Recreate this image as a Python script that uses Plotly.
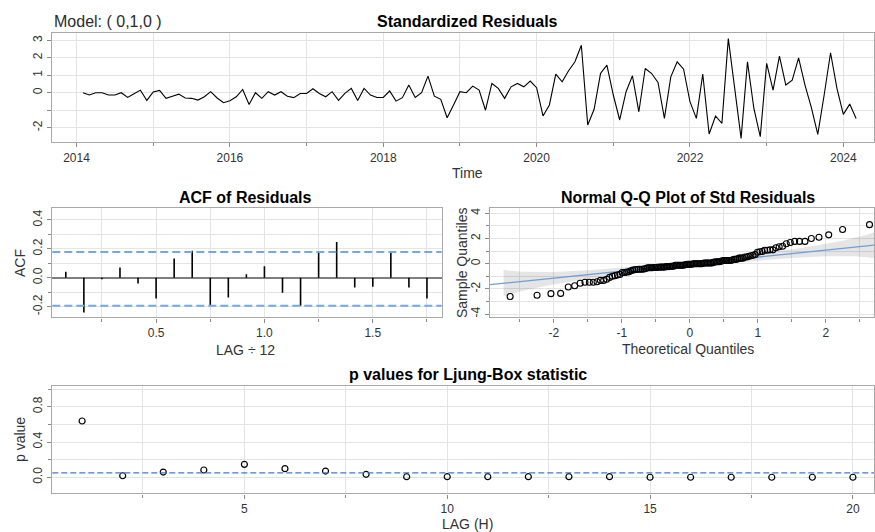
import numpy as np
import plotly.graph_objects as go
from statistics import NormalDist

# ---------------- data ----------------
model_label = "Model: ( 0,1,0 )"
start_year = 2014
start_month = 2
std_resid = [
    0.00, -0.13, 0.00, 0.00, -0.13, -0.13, 0.00, -0.27, -0.06, 0.15,
    -0.44, 0.04, 0.13, -0.32, -0.20, -0.08, -0.30, -0.32, -0.42, -0.23,
    0.06, -0.30, -0.57, -0.46, -0.23, 0.19, -0.67, 0.00, -0.32, 0.06,
    -0.13, 0.06, -0.20, -0.28, -0.04, -0.04, 0.23, -0.04, -0.23, 0.06,
    -0.44, -0.04, 0.25, -0.44, 0.25, -0.13, -0.27, -0.27, 0.10, -0.48,
    -0.28, 0.44, -0.27, 0.00, 0.95, -0.20, -0.38, -1.43, -0.70, 0.06,
    0.00, 0.38, 0.15, -1.00, 0.53, 0.25, -0.32, 0.34, 0.53, 0.34,
    0.67, 0.29, -1.33, -0.70, 1.07, 0.63, 1.26, 1.77, 2.72, -1.85,
    -0.95, 1.10, 1.58, -0.13, -1.56, 0.06, 0.97, -1.09, 1.39, 1.10,
    0.59, -1.47, 0.91, 1.77, 1.35, -0.51, -1.47, 1.07, -2.36, -1.33,
    -1.75, 3.10, 0.25, -2.61, 1.77, -0.90, -2.51, 1.68, 0.15, 2.10,
    0.44, 0.72, 2.00, 0.44, -0.85, -2.38, -0.13, 2.29, 0.25, -1.24,
    -0.65, -1.47,
]
acf_lags = list(range(1, 22))
acf_values = [0.041, -0.240, -0.010, 0.071, -0.040, -0.143, 0.133, 0.186,
              -0.195, -0.136, 0.025, 0.080, -0.103, -0.193, 0.179, 0.248,
              -0.067, -0.062, 0.172, -0.067, -0.143]
acf_bounds = [0.178, -0.193]
lb_lags = list(range(1, 21))
lb_pvalues = [0.638, 0.018, 0.060, 0.083, 0.147, 0.098, 0.071, 0.034, 0.007, 0.007,
              0.007, 0.007, 0.007, 0.007, 0.001, 0.001, 0.001, 0.001, 0.001, 0.001]
lb_level = 0.05

# ---------------- derived ----------------
n = len(std_resid)
t = [start_year + (start_month - 1 + k) / 12 for k in range(n)]
acf_x = [l / 12 for l in acf_lags]

nd = NormalDist()
srt = np.sort(np.array(std_resid))
probs = (np.arange(1, n + 1) - 0.5) / n
zq = np.array([nd.inv_cdf(p) for p in probs])
q1, q3 = np.percentile(srt, [25, 75])
z1, z3 = nd.inv_cdf(0.25), nd.inv_cdf(0.75)
slope = (q3 - q1) / (z3 - z1)
inter = q1 - slope * z1
zb = np.linspace(-2.74, 2.74, 120)
P = np.array([nd.cdf(v) for v in zb])
dn = np.array([nd.pdf(v) for v in zb])
se = slope / dn * np.sqrt(P * (1 - P) / n)
half = 1.96 * 1.8 * se
fitv = inter + slope * zb

W, H = 875, 532
def px(x):
    return x / W
def py(y):
    return 1 - y / H

FONT = "Liberation Sans, Arial, sans-serif"
GRID = "#e4e4e4"
FRAME = "#a9a9a9"
TICKC = "#8a8a8a"
TXT = "#333333"

fig = go.Figure()

fig.add_trace(go.Scatter(x=t, y=std_resid, mode="lines",
                         line=dict(color="black", width=1.1),
                         xaxis="x", yaxis="y", showlegend=False, hoverinfo="skip"))

sx, sy = [], []
for xv, yv in zip(acf_x, acf_values):
    sx += [xv, xv, None]
    sy += [0, yv, None]
fig.add_trace(go.Scatter(x=sx, y=sy, mode="lines", line=dict(color="black", width=1.6),
                         xaxis="x2", yaxis="y2", showlegend=False, hoverinfo="skip"))

fig.add_trace(go.Scatter(x=list(zb) + list(zb[::-1]),
                         y=list(fitv + half) + list((fitv - half)[::-1]),
                         mode="lines", fill="toself", fillcolor="rgba(0,0,0,0.10)",
                         line=dict(width=0), xaxis="x3", yaxis="y3",
                         showlegend=False, hoverinfo="skip"))
fig.add_trace(go.Scatter(x=[-3.2, 3.2], y=[inter - 3.2 * slope, inter + 3.2 * slope],
                         mode="lines", line=dict(color="#6f9fd6", width=1.3),
                         xaxis="x3", yaxis="y3", showlegend=False, hoverinfo="skip"))
fig.add_trace(go.Scatter(x=zq, y=srt, mode="markers",
                         marker=dict(symbol="circle-open", size=6, color="black",
                                     line=dict(width=1.1, color="black")),
                         xaxis="x3", yaxis="y3", showlegend=False, hoverinfo="skip"))

fig.add_trace(go.Scatter(x=lb_lags, y=lb_pvalues, mode="markers",
                         marker=dict(symbol="circle-open", size=6, color="black",
                                     line=dict(width=1.2, color="black")),
                         xaxis="x4", yaxis="y4", showlegend=False, hoverinfo="skip"))

def ax(domain, rng, tickvals, ticktext, minorvals, anchor, angle=0, zeroline=False):
    return dict(domain=domain, range=rng, anchor=anchor,
                tickmode="array", tickvals=tickvals, ticktext=ticktext,
                ticks="outside", ticklen=4, tickcolor=TICKC, tickwidth=1,
                tickangle=angle,
                tickfont=dict(family=FONT, size=12, color=TXT),
                showgrid=True, gridcolor=GRID, gridwidth=1,
                minor=dict(tickmode="array", tickvals=minorvals, ticks="outside",
                           ticklen=3, tickcolor=TICKC, showgrid=True,
                           gridcolor=GRID, gridwidth=1),
                showline=True, mirror=True, linecolor=FRAME, linewidth=1.4,
                zeroline=zeroline, zerolinecolor="#7f7f7f", zerolinewidth=2,
                fixedrange=True)

top_dom_x = [px(52), px(874)]
top_dom_y = [py(142), py(33)]
mid_dom_y = [py(317.3), py(208.3)]
acf_dom_x = [px(52.3), px(441.7)]
qq_dom_x = [px(490), px(874)]
lb_dom_x = [px(52.3), px(874)]
lb_dom_y = [py(493.3), py(385.7)]

yrs = list(range(2014, 2025, 2))
fig.update_layout(
    xaxis=ax(top_dom_x, [2013.68, 2024.40], yrs, [str(v) for v in yrs],
             list(range(2015, 2025, 2)), "y"),
    yaxis=ax(top_dom_y, [-2.82, 3.42], [3, 2, 1, 0, -1, -2], ["3", "2", "1", "0", "", "-2"],
             [], "x", angle=-90),
    xaxis2=ax(acf_dom_x, [0.021, 1.818], [0.5, 1.0, 1.5], ["0.5", "1.0", "1.5"],
              [0.25, 0.75, 1.25, 1.75], "y2"),
    yaxis2=ax(mid_dom_y, [-0.273, 0.48], [-0.2, 0.0, 0.2, 0.4], ["-0.2", "0.0", "0.2", "0.4"],
              [-0.1, 0.1, 0.3], "x2", angle=-90, zeroline=True),
    xaxis3=ax(qq_dom_x, [-2.94, 2.71], [-2, -1, 0, 1, 2], ["-2", "-1", "0", "1", "2"],
              [-2.5, -1.5, -0.5, 0.5, 1.5, 2.5], "y3"),
    yaxis3=ax(mid_dom_y, [-4.26, 4.4], [-4, -2, 0, 2, 4], ["-4", "-2", "0", "2", "4"],
              [-3, -1, 1, 3], "x3", angle=-90),
    xaxis4=ax(lb_dom_x, [0.265, 20.52], [5, 10, 15, 20], ["5", "10", "15", "20"],
              [2.5, 7.5, 12.5, 17.5], "y4"),
    yaxis4=ax(lb_dom_y, [-0.181, 1.038], [0.0, 0.4, 0.8], ["0.0", "0.4", "0.8"],
              [0.2, 0.6, 1.0], "x4", angle=-90),
)

shapes = []
for b in acf_bounds:
    shapes.append(dict(type="line", xref="x2 domain", yref="y2", x0=0, x1=1, y0=b, y1=b,
                       line=dict(color="#74a7e4", width=2, dash="8px,4px")))
shapes.append(dict(type="line", xref="x4 domain", yref="y4", x0=0, x1=1,
                   y0=lb_level, y1=lb_level,
                   line=dict(color="#3b7bd4", width=1.2, dash="6px,3px")))

def ann(text, x, y, size=14, bold=False, angle=0, xanchor="center", color=TXT):
    return dict(text=f"<b>{text}</b>" if bold else text, x=px(x), y=py(y),
                xref="paper", yref="paper", showarrow=False, textangle=angle,
                xanchor=xanchor, yanchor="middle",
                font=dict(family=FONT, size=size, color=color))

annotations = [
    ann(model_label, 52, 21, size=16, xanchor="left", color="#2b2b2b"),
    ann("Standardized Residuals", 468, 22, size=16, bold=True, color="black"),
    ann("Time", 468, 173, size=14),
    ann("ACF of Residuals", 245, 198, size=16, bold=True, color="black"),
    ann("LAG ÷ 12", 245, 350, size=14),
    ann("ACF", 20, 263, size=14, angle=-90),
    ann("Normal Q-Q Plot of Std Residuals", 688, 198, size=16, bold=True, color="black"),
    ann("Theoretical Quantiles", 688, 349, size=14),
    ann("Sample Quantiles", 462, 263, size=14, angle=-90),
    ann("p values for Ljung-Box statistic", 468, 374, size=16, bold=True, color="black"),
    ann("p value", 20, 440, size=14, angle=-90),
    ann("LAG (H)", 468, 524, size=14),
]

fig.update_layout(width=W, height=H, margin=dict(l=0, r=0, t=0, b=0),
                  paper_bgcolor="white", plot_bgcolor="white",
                  shapes=shapes, annotations=annotations,
                  font=dict(family=FONT, color=TXT), showlegend=False)

fig.write_html("out.html", config={"displayModeBar": False},
               post_script="document.body.style.margin='0px';document.body.style.overflow='hidden';")
